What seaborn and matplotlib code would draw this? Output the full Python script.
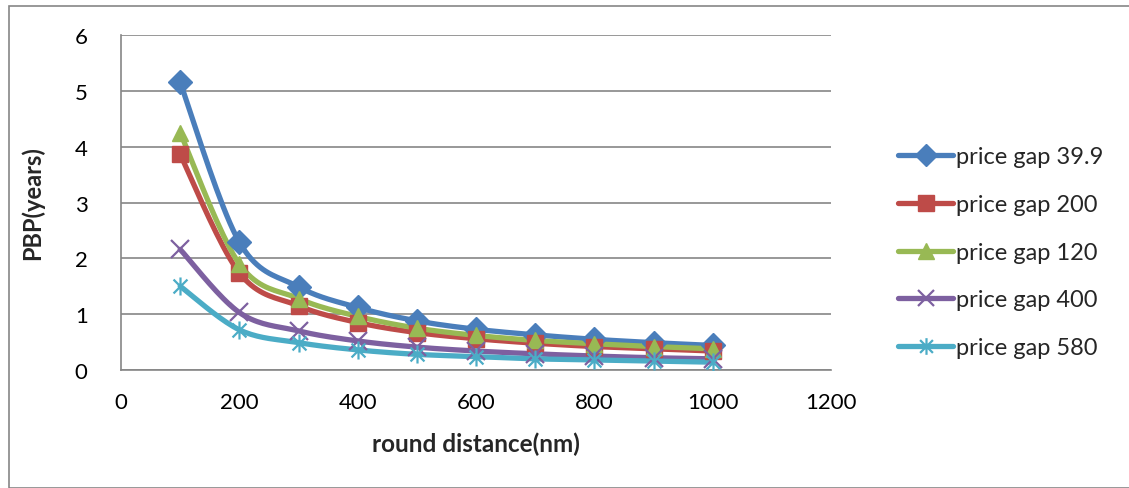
import numpy as np
import pandas as pd
import matplotlib
matplotlib.use("Agg")
import matplotlib.pyplot as plt
import seaborn as sns
from matplotlib.patches import Rectangle
from matplotlib.path import Path

distance = [100, 200, 300, 400, 500, 600, 700, 800, 900, 1000]
gap_39_9 = [5.15, 2.29, 1.49, 1.12, 0.88, 0.73, 0.63, 0.55, 0.49, 0.44]
gap_200 = [3.86, 1.74, 1.15, 0.85, 0.67, 0.56, 0.48, 0.42, 0.38, 0.34]
gap_120 = [4.25, 1.90, 1.28, 0.96, 0.75, 0.62, 0.53, 0.47, 0.42, 0.38]
gap_400 = [2.16, 1.03, 0.70, 0.52, 0.41, 0.34, 0.29, 0.25, 0.22, 0.20]
gap_580 = [1.50, 0.72, 0.49, 0.36, 0.28, 0.24, 0.20, 0.18, 0.16, 0.14]
series_names = ["price gap 39.9", "price gap 200", "price gap 120",
                "price gap 400", "price gap 580"]
series_values = [gap_39_9, gap_200, gap_120, gap_400, gap_580]
colors = ["#4A7EBB", "#BE4B48", "#98B954", "#7D60A0", "#4BACC6"]
x_ticks = [0, 200, 400, 600, 800, 1000, 1200]
y_ticks = [0, 1, 2, 3, 4, 5, 6]

asterisk = Path([(-1, -1), (1, 1), (-1, 1), (1, -1), (0, -1.3), (0, 1.3)],
                [Path.MOVETO, Path.LINETO, Path.MOVETO, Path.LINETO,
                 Path.MOVETO, Path.LINETO])
markers = ["D", "s", "^", "x", asterisk]

sns.set_theme(style="white")
plt.rcParams["font.family"] = ["Lato", "DejaVu Sans"]

W, H = 1129, 489
fig = plt.figure(figsize=(W / 100, H / 100), dpi=100)
ax = fig.add_axes([121 / W, 1 - 371 / H, (831 - 121) / W, (371 - 36) / H])

fig.patches.append(Rectangle((9 / W, 0.5 / H), 1.2, 1 - 7 / H - 0.5 / H,
                             transform=fig.transFigure, fill=False,
                             edgecolor="#868686", linewidth=1.2))


def catmull(xs, ys, n=20):
    xs = np.asarray(xs, float); ys = np.asarray(ys, float)
    px = np.concatenate([[xs[0]], xs, [xs[-1]]])
    py = np.concatenate([[ys[0]], ys, [ys[-1]]])
    ox, oy = [], []
    t = np.linspace(0, 1, n, endpoint=False)
    for i in range(1, len(px) - 2):
        p0, p1, p2, p3 = (np.array([px[j], py[j]]) for j in (i - 1, i, i + 1, i + 2))
        b1 = p1 + (p2 - p0) / 6
        b2 = p2 - (p3 - p1) / 6
        pts = ((1 - t) ** 3)[:, None] * p1 + (3 * (1 - t) ** 2 * t)[:, None] * b1 \
            + (3 * (1 - t) * t ** 2)[:, None] * b2 + (t ** 3)[:, None] * p2
        ox.extend(pts[:, 0]); oy.extend(pts[:, 1])
    ox.append(xs[-1]); oy.append(ys[-1])
    return np.array(ox), np.array(oy)


handles = []
for i, (name, vals, c, m) in enumerate(zip(series_names, series_values, colors, markers)):
    sx, sy = catmull(distance, vals)
    ax.plot(sx, sy, color=c, linewidth=3.8, solid_capstyle="round", zorder=3)
    df = pd.DataFrame({"x": distance, "y": vals})
    ms = 12 if i < 3 else 13
    mew = 1.6 if i >= 3 else 1
    sns.lineplot(data=df, x="x", y="y", ax=ax, color=c, linestyle="none",
                 marker=m, markersize=ms, markeredgecolor=c, markeredgewidth=mew,
                 zorder=4)
    h, = ax.plot([], [], color=c, linewidth=3.8, marker=m, markersize=ms - 1,
                 markeredgecolor=c, markeredgewidth=mew, solid_capstyle="round")
    handles.append(h)

ax.set_xlim(0, 1200)
ax.set_ylim(0, 6)
ax.set_xticks(x_ticks)
ax.set_yticks(y_ticks)
ax.tick_params(axis="both", length=0, labelsize=16, colors="black")
ax.tick_params(axis="x", pad=16)
ax.tick_params(axis="y", pad=24)
ax.grid(axis="y", color="#868686", linewidth=1.2)
ax.set_axisbelow(True)
for s in ["top", "right"]:
    ax.spines[s].set_visible(False)
for s in ["left", "bottom"]:
    ax.spines[s].set_color("#868686")
    ax.spines[s].set_linewidth(1.2)
ax.set_xlabel("round distance(nm)", fontsize=17.5, fontweight="bold", labelpad=14)
ax.set_ylabel("PBP(years)", fontsize=17, fontweight="bold", labelpad=22)

fig.legend(handles, series_names, loc="upper left",
           bbox_to_anchor=(889 / W, 1 - 138 / H), frameon=False,
           fontsize=17, handlelength=2.3, handletextpad=0.15,
           labelspacing=1.13, borderaxespad=0)

fig.savefig("out.png", dpi=100, facecolor="white")
